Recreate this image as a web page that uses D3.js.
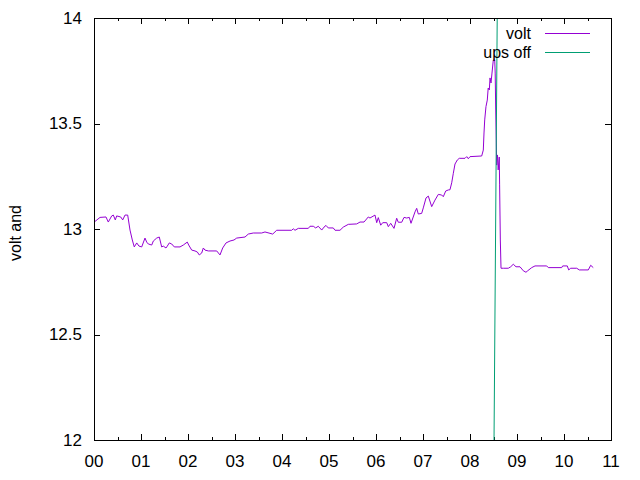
<!DOCTYPE html>
<html>
<head>
<meta charset="utf-8">
<script src="https://cdn.jsdelivr.net/npm/d3@7"></script>
<style>
  body { margin: 0; background: #fff; }
  text { font-family: "Liberation Sans", Arial, sans-serif; }
</style>
</head>
<body>
<svg id="chart" width="640" height="480"></svg>
<script>
// time in hours since 00:00, battery voltage
var voltTime = [0.000,0.128,0.255,0.304,0.377,0.411,0.453,0.483,0.568,0.611,0.660,0.717,0.766,0.815,0.857,0.909,0.957,1.015,1.085,1.121,
  1.155,1.228,1.262,1.334,1.389,1.440,1.474,1.532,1.560,1.602,1.653,1.709,1.830,1.900,1.985,2.015,2.079,2.149,2.198,2.240,
  2.291,2.326,2.362,2.432,2.611,2.681,2.738,2.809,2.894,2.979,3.036,3.213,3.283,3.389,3.568,3.638,3.802,3.887,4.206,4.240,
  4.277,4.347,4.560,4.596,4.666,4.717,4.772,4.845,4.894,4.936,4.985,5.091,5.128,5.234,5.304,5.411,5.589,5.660,5.745,5.836,
  5.872,5.979,6.015,6.049,6.100,6.143,6.228,6.262,6.313,6.383,6.440,6.474,6.547,6.596,6.653,6.709,6.745,6.830,6.866,6.900,
  6.972,7.006,7.064,7.113,7.185,7.255,7.326,7.398,7.432,7.483,7.538,7.574,7.611,7.645,7.681,7.730,7.772,7.894,7.930,7.964,
  8.000,8.249,8.283,8.298,8.313,8.340,8.368,8.387,8.411,8.426,8.447,8.468,8.496,8.526,8.536,8.547,8.568,8.585,8.600,8.623,
  8.630,8.645,8.660,8.709,8.815,8.866,8.921,8.979,9.064,9.134,9.191,9.228,9.313,9.383,9.632,9.666,9.951,9.972,10.070,10.100,
  10.143,10.270,10.326,10.517,10.568,10.623];
var voltValue = [13.032,13.055,13.057,13.033,13.062,13.066,13.043,13.062,13.057,13.043,13.066,13.066,12.995,12.948,12.915,12.934,12.919,12.915,12.957,12.938,
  12.929,12.924,12.943,12.957,12.962,12.915,12.919,12.910,12.919,12.934,12.929,12.915,12.915,12.924,12.938,12.924,12.900,12.896,12.891,12.877,
  12.886,12.910,12.900,12.896,12.896,12.877,12.910,12.934,12.943,12.948,12.957,12.962,12.976,12.981,12.981,12.986,12.976,12.994,12.994,13.001,
  12.994,13.003,13.003,13.013,13.013,13.005,13.013,12.995,13.009,13.017,13.005,13.005,12.994,12.994,13.009,13.022,13.024,13.033,13.033,13.057,
  13.052,13.066,13.030,13.054,13.018,13.030,13.030,13.011,13.027,13.003,13.051,13.032,13.032,13.055,13.052,13.055,13.027,13.081,13.098,13.071,
  13.074,13.100,13.147,13.156,13.106,13.137,13.164,13.161,13.153,13.180,13.185,13.186,13.219,13.264,13.308,13.327,13.335,13.335,13.343,13.333,
  13.343,13.346,13.374,13.455,13.517,13.580,13.611,13.668,13.659,13.716,13.692,13.739,13.801,13.801,13.739,13.564,13.303,13.351,13.280,13.341,
  13.209,12.948,12.814,12.814,12.814,12.821,12.833,12.821,12.821,12.802,12.795,12.802,12.817,12.825,12.825,12.817,12.817,12.825,12.825,12.806,
  12.814,12.814,12.806,12.806,12.828,12.817];

var upsTime = [8.511, 8.579];
var upsValue = [12.0, 14.0];

var xTicks = [0,1,2,3,4,5,6,7,8,9,10,11];
var xTickLabels = ["00","01","02","03","04","05","06","07","08","09","10","11"];
var yTicks = [12, 12.5, 13, 13.5, 14];
var seriesNames = ["volt", "ups off"];
var seriesColors = ["#9400d3", "#009e73"];

var W = 640, H = 480;
var margin = {top: 18, right: 29, bottom: 40, left: 94};

var svg = d3.select("#chart");

var x = d3.scaleLinear().domain([0, 11]).range([margin.left, W - margin.right]);
var y = d3.scaleLinear().domain([12, 14]).range([H - margin.bottom, margin.top]);

var minorX = d3.range(0.5, 11, 1);

// ticks on all four sides, pointing in
function tickAxes(){
  var g = svg.append("g").attr("stroke", "#000").attr("stroke-width", 1).attr("shape-rendering", "crispEdges");
  xTicks.forEach(function(t){
    var px = Math.round(x(t)) + 0.5;
    g.append("line").attr("x1", px).attr("x2", px).attr("y1", y(12)).attr("y2", y(12) - 6);
    g.append("line").attr("x1", px).attr("x2", px).attr("y1", y(14)).attr("y2", y(14) + 6);
  });
  minorX.forEach(function(t){
    var px = Math.round(x(t)) + 0.5;
    g.append("line").attr("x1", px).attr("x2", px).attr("y1", y(12)).attr("y2", y(12) - 3);
    g.append("line").attr("x1", px).attr("x2", px).attr("y1", y(14)).attr("y2", y(14) + 3);
  });
  yTicks.forEach(function(v){
    var py = Math.round(y(v)) + 0.5;
    g.append("line").attr("x1", x(0)).attr("x2", x(0) + 6).attr("y1", py).attr("y2", py);
    g.append("line").attr("x1", x(11)).attr("x2", x(11) - 6).attr("y1", py).attr("y2", py);
  });
}
tickAxes();

// tick labels
svg.append("g").selectAll("text").data(yTicks).enter().append("text")
  .attr("x", margin.left - 12)
  .attr("y", function(d){ return y(d); })
  .attr("dy", "0.35em")
  .attr("text-anchor", "end")
  .attr("font-size", 17)
  .text(function(d){ return d; });

svg.append("g").selectAll("text").data(xTicks).enter().append("text")
  .attr("x", function(d){ return x(d); })
  .attr("y", H - margin.bottom + 21)
  .attr("dy", "0.35em")
  .attr("text-anchor", "middle")
  .attr("font-size", 17)
  .text(function(d, i){ return xTickLabels[i]; });

svg.append("text")
  .attr("transform", "translate(15,233) rotate(-90)")
  .attr("text-anchor", "middle")
  .attr("dy", "0.35em")
  .attr("font-size", 16)
  .text("volt and");

// series
svg.append("defs").append("clipPath").attr("id", "clip")
  .append("rect").attr("x", margin.left).attr("y", margin.top)
  .attr("width", W - margin.left - margin.right).attr("height", H - margin.top - margin.bottom);

var line = d3.line()
  .x(function(d){ return x(d[0]); })
  .y(function(d){ return y(d[1]); });

var voltData = voltTime.map(function(t, i){ return [t, voltValue[i]]; });
var upsData = upsTime.map(function(t, i){ return [t, upsValue[i]]; });

var plot = svg.append("g").attr("clip-path", "url(#clip)");
plot.append("path").datum(voltData).attr("d", line)
  .attr("fill", "none").attr("stroke", seriesColors[0]).attr("stroke-width", 1);
plot.append("path").datum(upsData).attr("d", line)
  .attr("fill", "none").attr("stroke", seriesColors[1]).attr("stroke-width", 1);

// border
svg.append("rect")
  .attr("x", margin.left + 0.5).attr("y", margin.top + 0.5)
  .attr("width", W - margin.left - margin.right).attr("height", H - margin.top - margin.bottom)
  .attr("fill", "none").attr("stroke", "#000").attr("stroke-width", 1);

// legend
var legend = svg.append("g");
seriesNames.forEach(function(name, i){
  var ly = 33 + i * 19;
  legend.append("text")
    .attr("x", 531).attr("y", ly).attr("dy", "0.35em")
    .attr("text-anchor", "end").attr("font-size", 16)
    .text(name);
  legend.append("line")
    .attr("x1", 545).attr("x2", 590).attr("y1", ly + 0.5).attr("y2", ly + 0.5)
    .attr("stroke", seriesColors[i]).attr("stroke-width", 1);
});
</script>
</body>
</html>
